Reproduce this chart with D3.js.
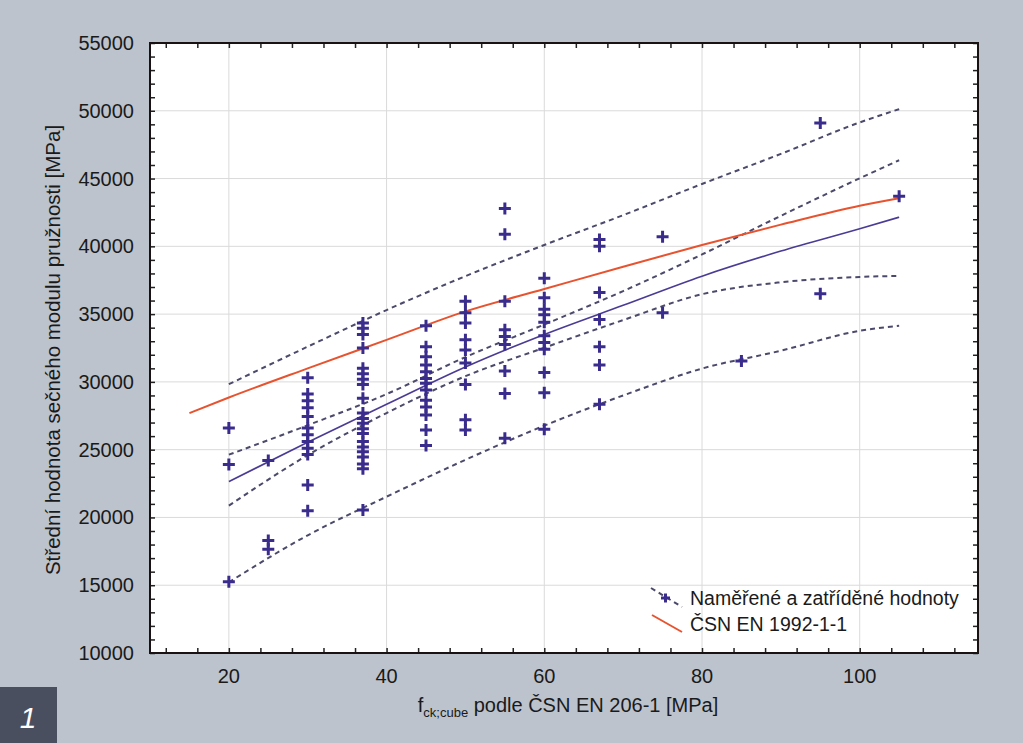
<!DOCTYPE html>
<html>
<head>
<meta charset="utf-8">
<script src="https://cdn.jsdelivr.net/npm/d3@7"></script>
<style>
body {margin:0; background:#bcc3cd;}
svg {display:block; font-family:"Liberation Sans", Arial, sans-serif;}
.grid {stroke:#dadada; stroke-width:1;}
.band {fill:none; stroke:#4c4a6c; stroke-width:2; stroke-dasharray:5,4;}
.mean {fill:none; stroke:#4b3b95; stroke-width:1.6;}
.csn {fill:none; stroke:#e8532f; stroke-width:2;}
.point {stroke:#3a2c8c; stroke-width:3; fill:none;}
</style>
</head>
<body>
<svg id="chart" width="1023" height="743"></svg>
<script>
// measured values, grouped by f_ck,cube class
var fckCube = [20, 25, 30, 37, 45, 50, 55, 60, 67, 75, 85, 95, 105];
var measured = [
  [26600, 23900, 15250],
  [24200, 18300, 17650],
  [30300, 29100, 28600, 28100, 27450, 26600, 26100, 25600, 25100, 24650, 22400, 20500],
  [34350, 33950, 33500, 32500, 31000, 30600, 30200, 29800, 28800, 27700, 27300, 26950, 26550, 26200, 25600, 25200, 24850, 24450, 23950, 23600, 20550],
  [34150, 32600, 31850, 31250, 30750, 30250, 29900, 29400, 28650, 28150, 27550, 26450, 25300],
  [35950, 35100, 34350, 33100, 32350, 31400, 29800, 27200, 26450],
  [42800, 40900, 35950, 33850, 33350, 32750, 30800, 29150, 25850],
  [37650, 36200, 35350, 34950, 34400, 33400, 32900, 32400, 30700, 29200, 26500],
  [40500, 40000, 36600, 34600, 32600, 31250, 28350],
  [40700, 35100],
  [31550],
  [49100, 36500],
  [43700]
];

// regression curve and bands
var fitX       = [20, 30, 40, 50, 60, 70, 80, 90, 100, 105];
var fitMean    = [22650, 25550, 28350, 31100, 33500, 35650, 37800, 39650, 41300, 42150];
var confUpper  = [24630, 26800, 29100, 31830, 34230, 36700, 39400, 42250, 45020, 46350];
var confLower  = [20870, 24600, 27700, 30420, 32520, 34560, 36470, 37350, 37740, 37820];
var predUpper  = [29830, 32600, 35300, 37800, 40100, 42300, 44600, 46820, 49140, 50120];
var predLower  = [15220, 18680, 21530, 24250, 26770, 29000, 30980, 32300, 33770, 34140];

// ČSN EN 1992-1-1 curve
var csnX      = [15, 20, 30, 40, 50, 60, 70, 80, 90, 100, 105];
var csnValues = [27700, 28850, 31000, 33100, 35200, 36850, 38500, 40100, 41600, 43000, 43550];

var xTicks = [20, 40, 60, 80, 100];
var yTicks = [10000, 15000, 20000, 25000, 30000, 35000, 40000, 45000, 50000, 55000];

(function () {
  var svg = d3.select('#chart');
  var pLeft = 150, pRight = 978, pTop = 43, pBottom = 653;

  var x = d3.scaleLinear().domain([10, 115]).range([pLeft, pRight]);
  var y = d3.scaleLinear().domain([10000, 55000]).range([pBottom, pTop]);

  svg.append('rect').attr('width', 1023).attr('height', 743).attr('fill', '#bcc3cd');
  svg.append('rect')
    .attr('x', pLeft).attr('y', pTop)
    .attr('width', pRight - pLeft).attr('height', pBottom - pTop)
    .attr('fill', '#fff');

  // grid
  svg.append('g').selectAll('line').data(xTicks).join('line')
    .attr('class', 'grid')
    .attr('x1', d => x(d)).attr('x2', d => x(d))
    .attr('y1', pTop).attr('y2', pBottom);
  svg.append('g').selectAll('line').data(yTicks.slice(1, -1)).join('line')
    .attr('class', 'grid')
    .attr('x1', pLeft).attr('x2', pRight)
    .attr('y1', d => y(d)).attr('y2', d => y(d));

  function curve(xs, ys, cls) {
    var line = d3.line()
      .x((d, i) => x(xs[i]))
      .y(d => y(d))
      .curve(d3.curveMonotoneX);
    svg.append('path').datum(ys).attr('class', cls).attr('d', line);
  }

  curve(fitX, predUpper, 'band');
  curve(fitX, predLower, 'band');
  curve(fitX, confUpper, 'band');
  curve(fitX, confLower, 'band');
  curve(fitX, fitMean, 'mean');
  curve(csnX, csnValues, 'csn');

  // points as plus markers
  var pts = [];
  fckCube.forEach(function(f, i) {
    measured[i].forEach(function(v) { pts.push({f: f, v: v}); });
  });
  svg.append('g').selectAll('path').data(pts).join('path')
    .attr('class', 'point')
    .attr('d', d => 'M' + (x(d.f) - 6) + ',' + y(d.v) + 'h12M' + x(d.f) + ',' + (y(d.v) - 6) + 'v12');

  // frame with inward ticks
  var xMinor = d3.range(12, 115, 4);
  var yMinor = d3.range(10000, 55001, 1000);
  var axes = [
    [d3.axisBottom(x).tickValues(xMinor), 'translate(0,' + pBottom + ')'],
    [d3.axisTop(x).tickValues(xMinor), 'translate(0,' + pTop + ')'],
    [d3.axisLeft(y).tickValues(yMinor), 'translate(' + pLeft + ',0)'],
    [d3.axisRight(y).tickValues(yMinor), 'translate(' + pRight + ',0)']
  ];
  axes.forEach(function(a) {
    var g = svg.append('g').attr('transform', a[1])
      .call(a[0].tickSizeInner(-5).tickSizeOuter(0).tickFormat(''));
    g.select('.domain').remove();
    g.selectAll('line').attr('stroke', '#222').attr('stroke-width', 1.5);
  });

  svg.append('rect')
    .attr('x', pLeft).attr('y', pTop)
    .attr('width', pRight - pLeft).attr('height', pBottom - pTop)
    .attr('fill', 'none').attr('stroke', '#1a1212').attr('stroke-width', 2);

  // tick labels
  svg.append('g').selectAll('text').data(xTicks).join('text')
    .attr('x', d => x(d)).attr('y', 683)
    .attr('text-anchor', 'middle')
    .attr('font-size', 20).attr('fill', '#1a1a1a')
    .text(d => d);
  svg.append('g').selectAll('text').data(yTicks).join('text')
    .attr('x', 134).attr('y', d => y(d) + 7)
    .attr('text-anchor', 'end')
    .attr('font-size', 20).attr('fill', '#1a1a1a')
    .text(d => d);

  // axis titles
  svg.append('text')
    .attr('transform', 'translate(60,350) rotate(-90)')
    .attr('text-anchor', 'middle')
    .attr('font-size', 20.5).attr('fill', '#1a1a1a')
    .text('Střední hodnota sečného modulu pružnosti [MPa]');

  var xt = svg.append('text')
    .attr('x', 568).attr('y', 712)
    .attr('text-anchor', 'middle')
    .attr('font-size', 20).attr('fill', '#1a1a1a');
  xt.append('tspan').text('f');
  xt.append('tspan').attr('font-size', 13).attr('dy', 5).text('ck;cube');
  xt.append('tspan').attr('dy', -5).text(' podle ČSN EN 206-1 [MPa]');

  // legend
  svg.append('line').attr('class', 'band').attr('stroke-dasharray', '4,3')
    .attr('x1', 651).attr('y1', 588).attr('x2', 682).attr('y2', 607);
  svg.append('path').attr('class', 'point').attr('stroke-width', 2.5)
    .attr('d', 'M661,598h9M665.5,593.5v9');
  svg.append('line').attr('class', 'csn')
    .attr('x1', 652).attr('y1', 615).attr('x2', 682).attr('y2', 632);
  svg.append('text').attr('x', 690).attr('y', 605)
    .attr('font-size', 19.5).attr('fill', '#1a1a1a')
    .text('Naměřené a zatříděné hodnoty');
  svg.append('text').attr('x', 690).attr('y', 631)
    .attr('font-size', 19.5).attr('fill', '#1a1a1a')
    .text('ČSN EN 1992-1-1');

  // figure number
  svg.append('rect').attr('x', 0).attr('y', 687).attr('width', 57).attr('height', 56).attr('fill', '#4a4f60');
  svg.append('text').attr('x', 28).attr('y', 728)
    .attr('text-anchor', 'middle')
    .attr('font-size', 30).attr('font-style', 'italic').attr('fill', '#fff')
    .text('1');
})();
</script>
</body>
</html>
